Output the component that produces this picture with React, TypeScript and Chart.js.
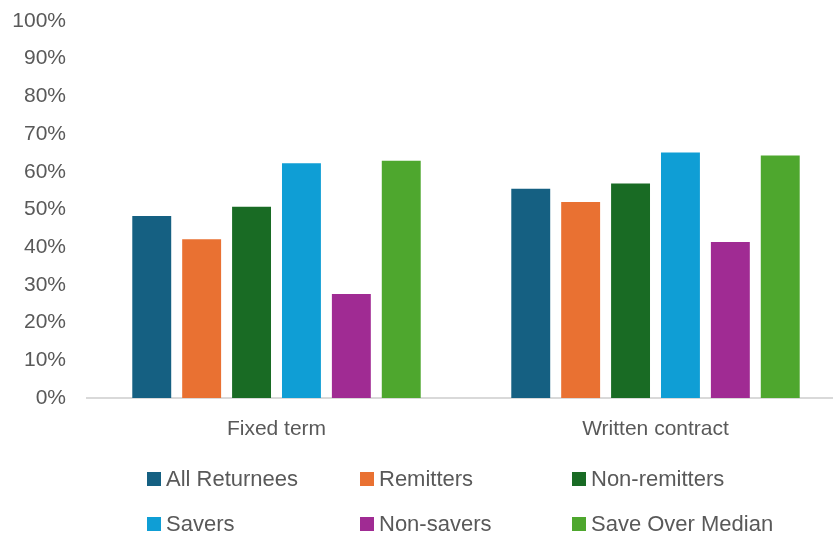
import React, { useEffect, useRef } from "react";
import { Chart, registerables } from "chart.js";

Chart.register(...registerables);

const categories = ["Fixed term", "Written contract"];
const seriesNames = ["All Returnees", "Remitters", "Non-remitters", "Savers", "Non-savers", "Save Over Median"];
const allReturnees = [48.3, 55.5];
const remitters = [42.1, 52.0];
const nonRemitters = [50.7, 56.9];
const savers = [62.3, 65.1];
const nonSavers = [27.6, 41.4];
const saveOverMedian = [62.9, 64.3];
const seriesColors = ["#156082", "#E97132", "#196B24", "#0F9ED5", "#A02B93", "#4EA72E"];
const yTicks = [0, 10, 20, 30, 40, 50, 60, 70, 80, 90, 100];

const seriesValues = [allReturnees, remitters, nonRemitters, savers, nonSavers, saveOverMedian];

const FONT = "'Liberation Sans', Arial, sans-serif";
const TEXT = "#595959";

export default function App() {
  const ref = useRef<HTMLCanvasElement | null>(null);

  useEffect(() => {
    document.body.style.margin = "0";
    document.body.style.overflow = "hidden";
    if (!ref.current) return;
    const chart = new Chart(ref.current, {
      type: "bar",
      data: {
        labels: categories,
        datasets: seriesNames.map((name, i) => ({
          label: name,
          data: seriesValues[i],
          backgroundColor: seriesColors[i],
          borderWidth: 0,
          categoryPercentage: 0.79,
          barPercentage: 0.78,
        })),
      },
      options: {
        animation: false,
        responsive: false,
        maintainAspectRatio: false,
        layout: { padding: { left: 12, right: 1, top: 21, bottom: 88 } },
        plugins: {
          legend: { display: false },
          tooltip: { enabled: false },
        },
        scales: {
          x: {
            grid: { display: false, drawTicks: false, tickLength: 0 },
            border: { display: true, color: "#D9D9D9", width: 2 },
            ticks: {
              color: TEXT,
              font: { family: FONT, size: 21 },
              padding: 19,
            },
            afterFit: (scale: any) => {
              scale.height = 50;
              scale.paddingLeft = 0;
              scale.paddingRight = 0;
            },
          },
          y: {
            min: 0,
            max: 100,
            afterBuildTicks: (scale: any) => {
              scale.ticks = yTicks.map((v) => ({ value: v }));
            },
            grid: { display: false, drawTicks: false, tickLength: 0 },
            border: { display: false },
            ticks: {
              color: TEXT,
              font: { family: FONT, size: 21 },
              padding: 21,
              callback: (v: any) => v + "%",
            },
            afterFit: (scale: any) => {
              scale.width = 75;
              scale.paddingTop = 0;
              scale.paddingBottom = 0;
            },
          },
        },
      },
    });
    return () => chart.destroy();
  }, []);

  const cols = [147, 360, 572];
  const rows = [472, 517];

  return (
    <div
      style={{
        position: "absolute",
        left: 0,
        top: 0,
        width: 833,
        height: 536,
        overflow: "hidden",
        background: "#fff",
      }}
    >
      <canvas ref={ref} width={846} height={536} style={{ display: "block", width: 846, height: 536 }} />
      {seriesNames.map((name, i) => (
        <div
          key={name}
          style={{
            position: "absolute",
            left: cols[i % 3],
            top: rows[Math.floor(i / 3)] - 5,
            height: 24,
            display: "flex",
            alignItems: "center",
            whiteSpace: "nowrap",
            fontFamily: FONT,
            fontSize: 22,
            color: TEXT,
          }}
        >
          <span
            style={{
              display: "inline-block",
              width: 14,
              height: 14,
              background: seriesColors[i],
              marginRight: 5,
            }}
          />
          <span>{name}</span>
        </div>
      ))}
    </div>
  );
}
